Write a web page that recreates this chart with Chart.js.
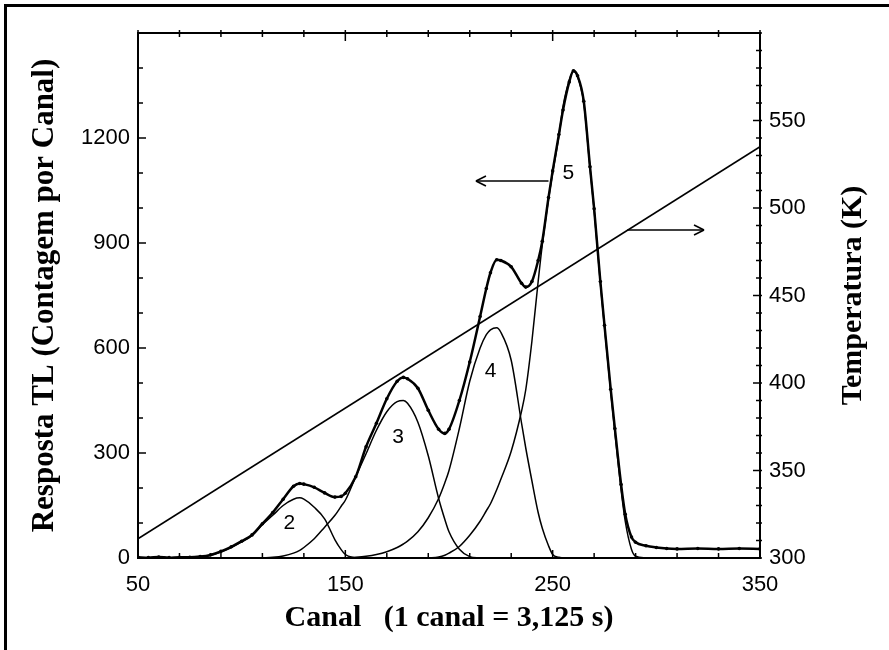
<!DOCTYPE html>
<html>
<head>
<meta charset="utf-8">
<script src="https://cdn.jsdelivr.net/npm/chart.js@4.4.1/dist/chart.umd.min.js"></script>
<style>
  html, body { margin: 0; padding: 0; background: #fff; }
  canvas { display: block; }
</style>
</head>
<body>
<canvas id="glowChart" width="889" height="650"></canvas>
<script>
// canais
const canais = [50, 55, 60, 65, 70, 75, 80, 85, 90, 95, 100, 105, 110, 115, 120, 125, 128, 130, 135, 140,
  145, 148, 150, 155, 160, 165, 170, 175, 178, 180, 185, 190, 195, 198, 200, 205, 210, 215, 218, 220,
  223, 225, 230, 235, 237, 240, 243, 245, 248, 250, 253, 255, 258, 260, 262, 265, 268, 270, 273, 275,
  278, 280, 283, 285, 288, 290, 295, 300, 305, 310, 320, 330, 340, 350];

// curva medida (contagem por canal)
const total = [2, 1, 3, 1, 2, 2, 4, 9, 19, 32, 48, 66, 98, 130, 168, 205, 213, 211, 202, 186,
  174, 176, 185, 232, 318, 385, 455, 505, 516, 512, 485, 422, 368, 356, 368, 450, 560, 690, 770, 815,
  852, 850, 832, 785, 774, 790, 850, 905, 1030, 1106, 1210, 1280, 1360, 1392, 1378, 1305, 1118, 998, 790, 665,
  482, 370, 210, 125, 60, 45, 35, 30, 27, 26, 27, 26, 27, 26];

// picos deconvoluidos
const pico2 = [null, null, null, null, null, null, 1, 7, 17, 30, 46, 64, 95, 122, 150, 168, 172, 168, 145, 112,
  52, 24, 10, 0, null, null, null, null, null, null, null, null, null, null, null, null, null, null, null, null,
  null, null, null, null, null, null, null, null, null, null, null, null, null, null, null, null, null, null, null, null,
  null, null, null, null, null, null, null, null, null, null, null, null, null, null];

const pico3 = [null, null, null, null, null, null, null, null, null, null, null, null, 0, 2, 6, 14, 22, 30, 55, 88,
  122, 148, 165, 232, 298, 365, 418, 447, 450, 442, 388, 292, 170, 110, 75, 25, 4, 0, null, null,
  null, null, null, null, null, null, null, null, null, null, null, null, null, null, null, null, null, null, null, null,
  null, null, null, null, null, null, null, null, null, null, null, null, null, null];

const pico4 = [null, null, null, null, null, null, null, null, null, null, null, null, null, null, null, null, null, null, null, null,
  null, null, 0, 2, 5, 10, 18, 30, 40, 48, 75, 115, 170, 215, 250, 370, 505, 600, 638, 652,
  658, 645, 565, 385, 315, 220, 130, 85, 35, 10, 2, 0, null, null, null, null, null, null, null, null,
  null, null, null, null, null, null, null, null, null, null, null, null, null, null];

const pico5 = [null, null, null, null, null, null, null, null, null, null, null, null, null, null, null, null, null, null, null, null,
  null, null, null, null, null, null, null, null, null, null, null, 0, 3, 8, 14, 33, 65, 105, 135, 155,
  195, 225, 305, 420, 480, 620, 790, 895, 1025, 1100, 1205, 1290, 1365, 1390, 1375, 1300, 1115, 995, 785, 660,
  475, 360, 195, 105, 25, 5, 0, null, null, null, null, null, null, null];

// rampa de aquecimento (eixo da direita)
const canaisTemp = [50, 350];
const temperatura = [311, 535];

// rotulos dos eixos
const rotulosCanal = [50, 150, 250, 350];
const rotulosTL = [0, 300, 600, 900, 1200];
const rotulosTemp = [300, 350, 400, 450, 500, 550];

// numeros dos picos e setas, em coordenadas dos dados
const numerosPicos = [
  { texto: '2', x: 123, y: 100 },
  { texto: '3', x: 175.5, y: 346 },
  { texto: '4', x: 220, y: 534 },
  { texto: '5', x: 257.5, y: 1100 }
];
const setas = [
  { de: 248, ate: 213, y: 1077 },
  { de: 286, ate: 323, y: 937 }
];

function pontos(xs, ys) {
  const out = [];
  xs.forEach((x, i) => {
    if (ys[i] !== null) out.push({ x: x, y: ys[i] });
  });
  return out;
}

function linha(ctx, x1, y1, x2, y2) {
  ctx.beginPath();
  ctx.moveTo(x1, y1);
  ctx.lineTo(x2, y2);
  ctx.stroke();
}

const moldura = {
  id: 'moldura',
  beforeDraw(chart) {
    const ctx = chart.ctx;
    ctx.save();
    ctx.fillStyle = '#fff';
    ctx.fillRect(0, 0, chart.width, chart.height);
    ctx.fillStyle = '#000';
    ctx.fillRect(4, 4, chart.width - 4, 3);
    ctx.fillRect(4, 4, 3, chart.height - 4);
    ctx.restore();
  },
  afterDatasetsDraw(chart) {
    const { ctx, chartArea: a, scales } = chart;
    ctx.save();
    ctx.strokeStyle = '#000';
    ctx.lineWidth = 2;
    ctx.strokeRect(a.left, a.top, a.right - a.left, a.bottom - a.top);

    ctx.lineWidth = 1.5;
    // marcas do eixo x (baixo e topo)
    for (let v = 50; v <= 350; v += 20) {
      const px = scales.x.getPixelForValue(v);
      const maior = rotulosCanal.includes(v);
      linha(ctx, px, a.bottom, px, a.bottom - (maior ? 8 : 5));
      linha(ctx, px, a.top - 3, px, a.top + (maior ? 8 : 4));
    }
    // eixo TL (esquerda)
    for (let v = 0; v <= 1500; v += 100) {
      const py = scales.y.getPixelForValue(v);
      const maior = rotulosTL.includes(v);
      linha(ctx, a.left, py, a.left + (maior ? 8 : 5), py);
    }
    // eixo temperatura (direita)
    for (let v = 300; v <= 600; v += 10) {
      const py = scales.y2.getPixelForValue(v);
      const maior = rotulosTemp.includes(v);
      linha(ctx, a.right - (maior ? 7 : 4), py, a.right + 2, py);
    }

    // numeros dos picos
    ctx.fillStyle = '#000';
    ctx.font = '21px "Liberation Sans", Arial, sans-serif';
    ctx.textAlign = 'center';
    ctx.textBaseline = 'middle';
    numerosPicos.forEach(p => {
      ctx.fillText(p.texto, scales.x.getPixelForValue(p.x), scales.y.getPixelForValue(p.y));
    });

    // setas
    ctx.lineWidth = 1.6;
    setas.forEach(s => {
      const x1 = scales.x.getPixelForValue(s.de);
      const x2 = scales.x.getPixelForValue(s.ate);
      const py = scales.y.getPixelForValue(s.y);
      const dir = x2 > x1 ? 1 : -1;
      linha(ctx, x1, py, x2, py);
      linha(ctx, x2, py, x2 - dir * 10, py - 5);
      linha(ctx, x2, py, x2 - dir * 10, py + 5);
    });

    // titulo do eixo da direita, lido de baixo para cima
    ctx.font = 'bold 30px "Liberation Serif", "Times New Roman", serif';
    ctx.translate(a.right + 93, (a.top + a.bottom) / 2);
    ctx.rotate(-Math.PI / 2);
    ctx.fillText('Temperatura (K)', 0, 0);
    ctx.restore();
  }
};

const fonteEixo = { family: '"Liberation Sans", Arial, sans-serif', size: 22 };
const fonteTitulo = { family: '"Liberation Serif", "Times New Roman", serif', size: 30, weight: 'bold' };
const semMilhar = v => String(v);

new Chart(document.getElementById('glowChart'), {
  type: 'line',
  data: {
    datasets: [
      { data: pontos(canais, pico2), borderColor: '#000', borderWidth: 1.5, pointRadius: 0, cubicInterpolationMode: 'monotone' },
      { data: pontos(canais, pico3), borderColor: '#000', borderWidth: 1.5, pointRadius: 0, cubicInterpolationMode: 'monotone' },
      { data: pontos(canais, pico4), borderColor: '#000', borderWidth: 1.5, pointRadius: 0, cubicInterpolationMode: 'monotone' },
      { data: pontos(canais, pico5), borderColor: '#000', borderWidth: 1.5, pointRadius: 0, cubicInterpolationMode: 'monotone' },
      { data: pontos(canaisTemp, temperatura), yAxisID: 'y2', borderColor: '#000', borderWidth: 1.5, pointRadius: 0 },
      {
        data: pontos(canais, total), borderColor: '#000', borderWidth: 2.5,
        pointRadius: 1.8, pointBackgroundColor: '#000', pointBorderWidth: 0,
        cubicInterpolationMode: 'monotone'
      }
    ]
  },
  options: {
    responsive: false,
    animation: false,
    layout: { padding: { top: 33, left: 0, right: 0, bottom: 0 } },
    plugins: { legend: { display: false }, tooltip: { enabled: false } },
    scales: {
      x: {
        type: 'linear', min: 50, max: 350, position: 'bottom',
        afterBuildTicks: s => { s.ticks = rotulosCanal.map(v => ({ value: v })); },
        afterFit: s => { s.height = 92; },
        grid: { display: false, drawTicks: false },
        border: { display: false },
        ticks: { color: '#000', font: fonteEixo, padding: 14, maxRotation: 0, autoSkip: false, callback: semMilhar },
        title: { display: true, text: 'Canal   (1 canal = 3,125 s)', color: '#000', font: fonteTitulo, padding: { top: 14, bottom: 14 } }
      },
      y: {
        type: 'linear', min: 0, max: 1500, position: 'left',
        afterBuildTicks: s => { s.ticks = rotulosTL.map(v => ({ value: v })); },
        afterFit: s => { s.width = 138; },
        grid: { display: false, drawTicks: false },
        border: { display: false },
        ticks: { color: '#000', font: fonteEixo, padding: 8, callback: semMilhar },
        title: { display: true, text: 'Resposta TL (Contagem por Canal)', color: '#000', font: { ...fonteTitulo, size: 31 }, padding: { top: 26, bottom: 26 } }
      },
      y2: {
        type: 'linear', min: 300, max: 600, position: 'right',
        afterBuildTicks: s => { s.ticks = rotulosTemp.map(v => ({ value: v })); },
        afterFit: s => { s.width = 129; },
        grid: { display: false, drawTicks: false },
        border: { display: false },
        ticks: { color: '#000', font: fonteEixo, padding: 9, callback: semMilhar }
      }
    }
  },
  plugins: [moldura]
});
</script>
</body>
</html>
